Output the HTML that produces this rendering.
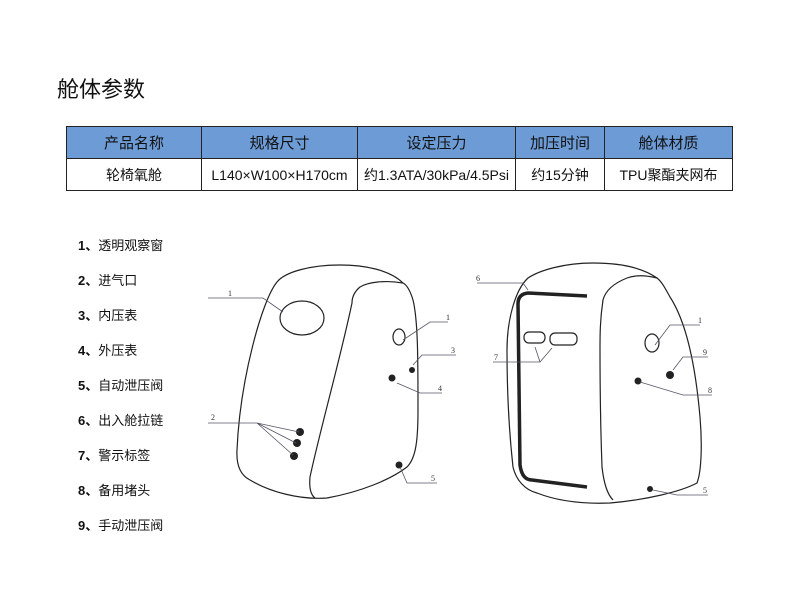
<!DOCTYPE html>
<html><head><meta charset="utf-8"><style>
body{margin:0;width:800px;height:600px;background:#fff;position:relative;overflow:hidden;font-family:"Liberation Sans","Noto Sans CJK SC",sans-serif;color:#111}
.t{position:absolute;left:57px;top:72px;font-size:22px}
table{position:absolute;left:66px;top:126px;border-collapse:collapse;font-size:14px}
td{border:1.5px solid #222;text-align:center;padding:0;height:31px}
tr.h td{background:#6d9bd6;font-size:15px}
.l{position:absolute;left:78px;font-size:13px}
.l b{font-weight:bold}
</style></head><body>
<div class="t">舱体参数</div>
<table>
<tr class="h"><td style="width:134px">产品名称</td><td style="width:155px">规格尺寸</td><td style="width:157px">设定压力</td><td style="width:88px">加压时间</td><td style="width:127px">舱体材质</td></tr>
<tr><td>轮椅氧舱</td><td>L140×W100×H170cm</td><td>约1.3ATA/30kPa/4.5Psi</td><td>约15分钟</td><td>TPU聚酯夹网布</td></tr>
</table>
<div class="l" style="top:235px"><b>1、</b>透明观察窗</div>
<div class="l" style="top:270px"><b>2、</b>进气口</div>
<div class="l" style="top:305px"><b>3、</b>内压表</div>
<div class="l" style="top:340px"><b>4、</b>外压表</div>
<div class="l" style="top:375px"><b>5、</b>自动泄压阀</div>
<div class="l" style="top:410px"><b>6、</b>出入舱拉链</div>
<div class="l" style="top:445px"><b>7、</b>警示标签</div>
<div class="l" style="top:480px"><b>8、</b>备用堵头</div>
<div class="l" style="top:515px"><b>9、</b>手动泄压阀</div>
<svg width="800" height="600" style="position:absolute;left:0;top:0" fill="none" stroke="#222" stroke-width="1.2">
<path d="M340,265 C310,265 285,272 277,282 C262,300 240,380 237,450 C236,468 242,476 250,480 C270,492 300,500 327,498 C360,492 390,480 407,467 C416,458 418,440 418,410 C418,360 418,320 413,300 C410,290 407,285 403,283 C390,270 365,265 340,265 Z"/>
<path d="M403,283 C385,280 368,282 360,287 C354,292 352,298 352,303 C340,360 320,430 310,477 C309,488 311,495 315,498"/>
<ellipse cx="302" cy="318" rx="22" ry="17"/>
<ellipse cx="399" cy="337" rx="6" ry="8"/>
<g fill="#222" stroke="none"><circle cx="412" cy="370" r="3"/><circle cx="392" cy="378" r="3.5"/><circle cx="300" cy="432" r="4"/><circle cx="297" cy="443" r="4"/><circle cx="294" cy="456" r="4"/><circle cx="399" cy="465" r="3.5"/></g>
<path d="M593,263 C565,263 540,270 528,278 C515,290 507,320 507,350 C507,400 510,440 513,467 C516,480 525,490 537,493 C560,502 585,504 610,503 C645,500 680,492 697,483 C702,470 702,440 700,417 C695,360 685,320 670,297 C665,288 662,282 657,278 C640,266 615,263 593,263 Z"/>
<path d="M657,278 C645,275 635,275 627,278 C612,284 605,292 603,300 C600,320 600,335 600,350 C600,400 601,440 602,467 C604,485 608,495 613,500"/>
<path d="M587,296 L528,293 Q518,294 518,304 L520,465 Q522,480 532,480 L587,487" stroke-width="3.5"/>
<rect x="524" y="332" width="21" height="11" rx="5"/>
<rect x="550" y="333" width="27" height="12" rx="5"/>
<ellipse cx="652" cy="343" rx="7" ry="9"/>
<g fill="#222" stroke="none"><circle cx="670" cy="375" r="4"/><circle cx="638" cy="381" r="3.5"/><circle cx="650" cy="489" r="3"/></g>
<g stroke="#556" stroke-width="0.8">
<path d="M208,298 L263,298 L283,312"/><path d="M448,322 L430,322 L403,340"/><path d="M456,355 L422,355 L413,365"/><path d="M442,393 L420,393 L397,383"/>
<path d="M208,423 L257,423 L299,432 M257,423 L296,443 M257,423 L293,455"/><path d="M437,483 L407,483 L400,467"/>
<path d="M477,283 L523,283 L528,290"/><path d="M493,362 L540,362 L535,347 M540,362 L552,348"/>
<path d="M700,325 L670,325 L655,345"/><path d="M708,357 L683,357 L673,370"/><path d="M712,395 L683,395 L640,382"/><path d="M708,495 L677,495 L653,490"/>
</g>
<g fill="#333" stroke="none" font-family="Liberation Serif,serif" font-size="8">
<text x="228" y="296">1</text><text x="446" y="320">1</text><text x="451" y="353">3</text><text x="438" y="391">4</text><text x="211" y="420">2</text><text x="431" y="481">5</text>
<text x="476" y="281">6</text><text x="494" y="360">7</text><text x="698" y="323">1</text><text x="703" y="355">9</text><text x="708" y="393">8</text><text x="703" y="493">5</text>
</g>
</svg>
</body></html>
